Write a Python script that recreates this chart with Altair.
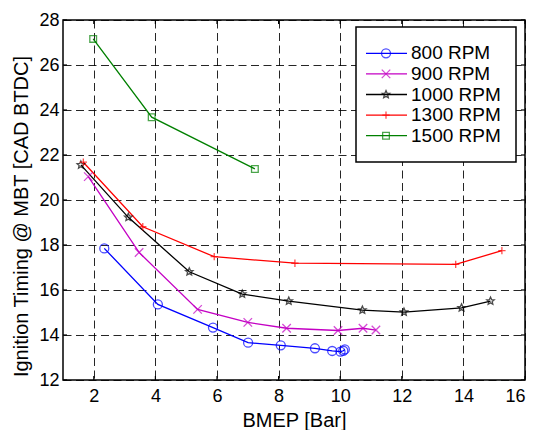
import altair as alt
import pandas as pd

# Operating-point measurements: BMEP [bar] vs. MBT ignition timing [CAD BTDC]
series_names = ["800 RPM", "900 RPM", "1000 RPM", "1300 RPM", "1500 RPM"]
series_colors = ["#0000ff", "#c400c4", "#000000", "#ff0000", "#008000"]

bmep_800 = [2.34, 4.08, 5.87, 7.01, 8.07, 9.18, 9.74, 10.01, 10.10, 10.15]
mbt_800 = [17.85, 15.36, 14.33, 13.66, 13.54, 13.41, 13.29, 13.26, 13.30, 13.36]

bmep_900 = [1.82, 3.47, 5.37, 7.00, 8.26, 9.93, 10.74, 11.16]
mbt_900 = [21.04, 17.67, 15.14, 14.56, 14.30, 14.20, 14.30, 14.22]

bmep_1000 = [1.58, 3.12, 5.10, 6.82, 8.33, 10.72, 12.07, 13.94, 14.88]
mbt_1000 = [21.56, 19.23, 16.81, 15.82, 15.51, 15.11, 15.02, 15.21, 15.51]

bmep_1300 = [1.66, 3.59, 5.91, 8.53, 13.75, 15.25]
mbt_1300 = [21.68, 18.81, 17.48, 17.19, 17.14, 17.75]

bmep_1500 = [1.98, 3.88, 7.23]
mbt_1500 = [27.16, 23.68, 21.38]

x_ticks = [2, 4, 6, 8, 10, 12, 14, 16]
y_ticks = [12, 14, 16, 18, 20, 22, 24, 26, 28]

# Marker glyphs (SVG paths in the unit square, scaled by the size channel)
star = ("M0,-1L0.27,-0.37L0.951,-0.309L0.436,0.142L0.588,0.809L0,0.459"
        "L-0.588,0.809L-0.436,0.142L-0.951,-0.309L-0.27,-0.37Z")
x_mark = "M-1,-1L1,1M-1,1L1,-1"
plus_mark = "M0,-1L0,1M-1,0L1,0"
marker_shapes = ["circle", x_mark, star, plus_mark, "square"]
marker_sizes = [81, 45, 120, 72, 70]

rows = []
for name, xs, ys in [
    ("800 RPM", bmep_800, mbt_800),
    ("900 RPM", bmep_900, mbt_900),
    ("1000 RPM", bmep_1000, mbt_1000),
    ("1300 RPM", bmep_1300, mbt_1300),
    ("1500 RPM", bmep_1500, mbt_1500),
]:
    for i, (xv, yv) in enumerate(zip(xs, ys)):
        rows.append({"series": name, "bmep": xv, "mbt": yv, "idx": i})
df = pd.DataFrame(rows)

W, H = 462, 360
FONT = "Liberation Sans"

color_enc = alt.Color("series:N", scale=alt.Scale(domain=series_names, range=series_colors), legend=None)
shape_enc = alt.Shape("series:N", scale=alt.Scale(domain=series_names, range=marker_shapes), legend=None)
size_enc = alt.Size("series:N", scale=alt.Scale(domain=series_names, range=marker_sizes), legend=None)

x_enc = alt.X(
    "bmep:Q",
    scale=alt.Scale(domain=[1, 16], nice=False),
    axis=alt.Axis(values=x_ticks, title="BMEP [Bar]", format="d"),
)
y_enc = alt.Y(
    "mbt:Q",
    scale=alt.Scale(domain=[12, 28], nice=False),
    axis=alt.Axis(values=y_ticks, title="Ignition Timing @ MBT [CAD BTDC]", format="d"),
)

base = alt.Chart(df)
lines = base.mark_line(strokeWidth=1.3).encode(x=x_enc, y=y_enc, color=color_enc, order="idx:Q", detail="series:N")
points = base.mark_point(filled=False, strokeWidth=1.3).encode(
    x=x_enc, y=y_enc, color=color_enc, shape=shape_enc, size=size_enc
)

# Inward tick marks on all four sides of the box
xt = alt.Chart(pd.DataFrame({"bmep": x_ticks}))
yt = alt.Chart(pd.DataFrame({"mbt": y_ticks}))
tick_style = dict(color="black", strokeWidth=1.2)
ticks_bottom = xt.mark_rule(**tick_style).encode(x="bmep:Q", y=alt.value(H), y2=alt.value(H - 4))
ticks_top = xt.mark_rule(**tick_style).encode(x="bmep:Q", y=alt.value(0), y2=alt.value(4))
ticks_left = yt.mark_rule(**tick_style).encode(y="mbt:Q", x=alt.value(0), x2=alt.value(4))
ticks_right = yt.mark_rule(**tick_style).encode(y="mbt:Q", x=alt.value(W), x2=alt.value(W - 4))

main = alt.layer(lines, points, ticks_bottom, ticks_top, ticks_left, ticks_right)

# Legend box in the upper-right corner
leg = alt.Chart(pd.DataFrame({"series": series_names}))
leg_y = alt.Y("series:N", scale=alt.Scale(domain=series_names, range=[23, 126]), axis=None)
leg_box = alt.Chart(pd.DataFrame({"k": [0]})).mark_rect(
    fill="white", stroke="black", strokeWidth=1.5
).encode(x=alt.value(293), x2=alt.value(453), y=alt.value(7), y2=alt.value(142))
leg_lines = leg.mark_rule(strokeWidth=1.3).encode(
    x=alt.value(303), x2=alt.value(344), y=leg_y, color=color_enc
)
leg_marks = leg.mark_point(filled=False, strokeWidth=1.3).encode(
    x=alt.value(323), y=leg_y, color=color_enc, shape=shape_enc, size=size_enc
)
leg_text = leg.mark_text(align="left", baseline="middle", fontSize=19, font=FONT, color="black").encode(
    x=alt.value(348), y=leg_y, text="series:N"
)
legend = alt.layer(leg_box, leg_lines, leg_marks, leg_text)

chart = (
    alt.layer(main, legend)
    .resolve_scale(y="independent")
    .properties(
        width=W,
        height=H,
        autosize=alt.AutoSizeParams(type="none"),
        padding={"left": 63, "top": 20, "right": 13, "bottom": 50},
        background="white",
    )
    .configure_view(stroke="black", strokeWidth=1.5)
    .configure_axis(
        domain=False,
        ticks=False,
        grid=True,
        gridColor="#000000",
        gridDash=[8, 4.5],
        gridWidth=1,
        gridOpacity=0.85,
        labelFont=FONT,
        labelFontSize=18,
        labelColor="black",
        titleFont=FONT,
        titleFontSize=20,
        titleFontWeight="normal",
        titleColor="black",
    )
    .configure_axisX(labelPadding=7, titleY=46, titleBaseline="alphabetic")
    .configure_axisY(labelPadding=4, titleX=-36, titleY=196, titleBaseline="alphabetic", titleAlign="center")
)

chart.save("out.html", embed_options={"renderer": "svg", "actions": False})
